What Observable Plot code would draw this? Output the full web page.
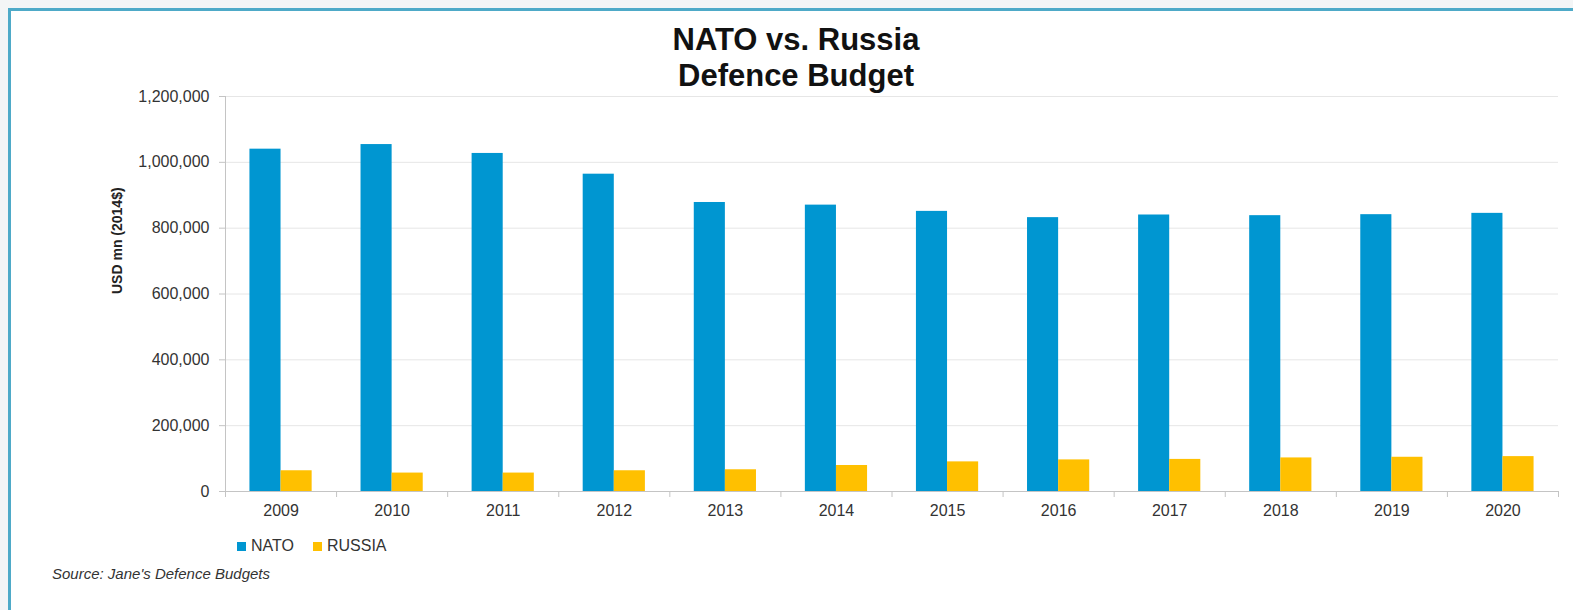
<!DOCTYPE html>
<html>
<head>
<meta charset="utf-8">
<script src="https://cdn.jsdelivr.net/npm/d3@7"></script>
<script src="https://cdn.jsdelivr.net/npm/@observablehq/plot@0.6"></script>
<style>
html, body { margin: 0; padding: 0; overflow: hidden; }
body { width: 1573px; height: 610px; background: #f3f5f6; position: relative;
  font-family: "Liberation Sans", Arial, sans-serif; }
#frame { position: absolute; left: 8px; top: 8px; width: 1565px; height: 602px; background: #fff;
  border-left: 3px solid #4eaac8; border-top: 3px solid #4eaac8; box-sizing: border-box; }
#chart { position: absolute; left: 0; top: 0; }
#title { position: absolute; left: 0; width: 1592px; top: 22px; text-align: center; font-weight: bold;
  font-size: 31px; line-height: 36px; color: #111; }
#legend { position: absolute; left: 237px; top: 537px; display: flex; align-items: center;
  font-size: 16px; line-height: 18px; color: #333; }
#legend .item { display: flex; align-items: center; margin-right: 19px; }
#legend .sw { width: 9px; height: 9px; margin-right: 5px; }
#source { position: absolute; left: 52px; top: 565px; font-size: 15px; font-style: italic; color: #333; }
</style>
</head>
<body>
<div id="frame"></div>
<div id="chart"></div>
<div id="title">NATO vs. Russia<br>Defence Budget</div>
<div id="legend"></div>
<div id="source">Source: Jane's Defence Budgets</div>
<script>
const years = [2009, 2010, 2011, 2012, 2013, 2014, 2015, 2016, 2017, 2018, 2019, 2020];
const natoValues = [1040000, 1054000, 1027000, 964000, 878000, 870000, 851000, 832000, 840000, 838000, 841000, 845000];
const russiaValues = [63000, 56000, 56000, 63000, 66000, 79000, 90000, 96000, 97500, 102000, 104000, 106000];
const seriesNames = ["NATO", "RUSSIA"];
const seriesColors = ["#0096d1", "#ffc000"];
const yTicks = [0, 200000, 400000, 600000, 800000, 1000000, 1200000];
const yLabel = "USD mn (2014$)";

const rows = years.flatMap((year, i) => [
  {year, series: seriesNames[0], value: natoValues[i]},
  {year, series: seriesNames[1], value: russiaValues[i]}
]);
const barWidth = 0.28; // share of one year's slot taken by each bar
const edges = [...years.map(y => y - 0.5), years[years.length - 1] + 0.5];
const axisGray = "#c4c4c4";

const chart = Plot.plot({
  width: 1573,
  height: 530,
  marginLeft: 225,
  marginRight: 15,
  marginTop: 96,
  marginBottom: 39,
  style: {background: "transparent", fontFamily: "Liberation Sans, Arial, sans-serif", fontSize: "16px", color: "#333"},
  x: {domain: [edges[0], edges[edges.length - 1]], axis: null},
  y: {domain: [0, 1200000], axis: null},
  color: {domain: seriesNames, range: seriesColors},
  marks: [
    Plot.gridY(yTicks, {stroke: "#e6e6e6", strokeOpacity: 1}),
    Plot.rect(rows, {
      x1: d => d.series === seriesNames[0] ? d.year - barWidth : d.year,
      x2: d => d.series === seriesNames[0] ? d.year : d.year + barWidth,
      y1: 0,
      y2: "value",
      fill: "series"
    }),
    Plot.frame({anchor: "left", stroke: axisGray}),
    Plot.ruleY([0], {stroke: axisGray}),
    Plot.axisY(yTicks, {tickSize: 6, tickPadding: 10, tickFormat: d3.format(","), stroke: axisGray, fill: "#333", label: null}),
    Plot.axisX(edges, {tickSize: 6, tickFormat: () => "", stroke: axisGray, label: null}),
    Plot.axisX(years, {tickSize: 0, tickPadding: 13, tickFormat: d => String(d), fill: "#333", label: null}),
    Plot.text([yLabel], {frameAnchor: "left", rotate: -90, dx: -108, fontWeight: "bold", fontSize: 14, fill: "#222"})
  ]
});
document.getElementById("chart").appendChild(chart);

const legend = document.getElementById("legend");
seriesNames.forEach((name, i) => {
  const item = document.createElement("div");
  item.className = "item";
  const sw = document.createElement("span");
  sw.className = "sw";
  sw.style.background = seriesColors[i];
  const label = document.createElement("span");
  label.textContent = name;
  item.appendChild(sw);
  item.appendChild(label);
  legend.appendChild(item);
});
</script>
</body>
</html>
